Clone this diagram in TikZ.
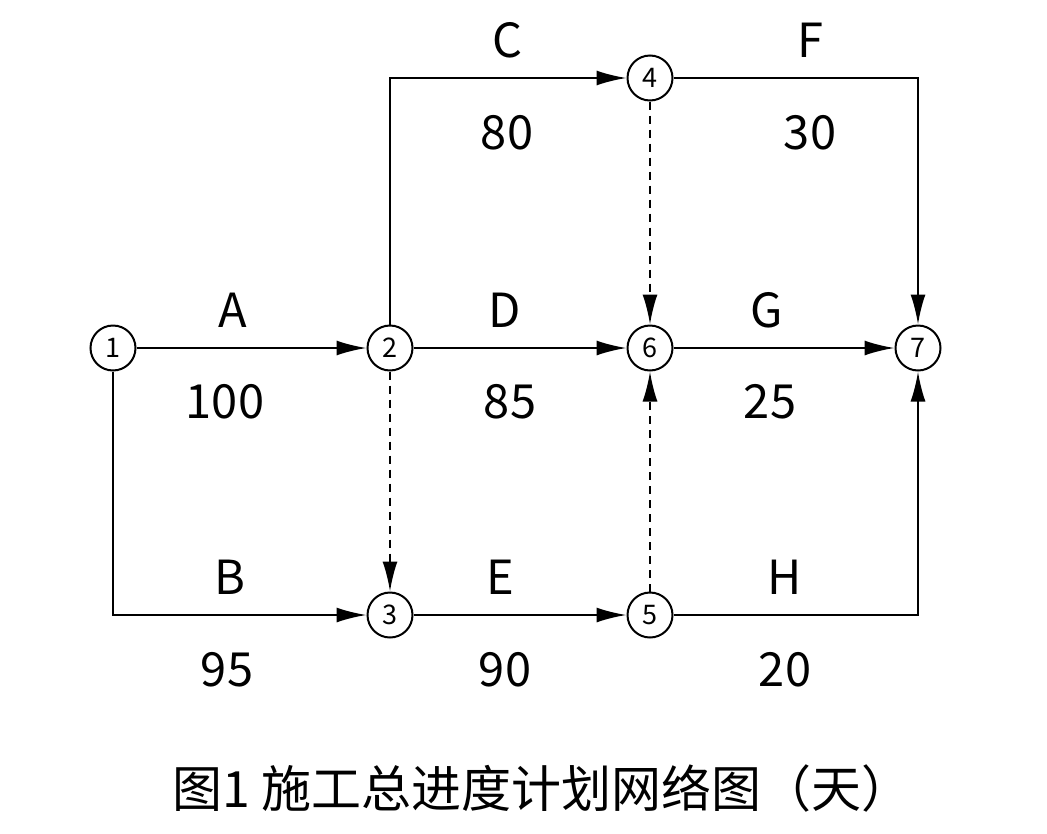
\documentclass[tikz,border=0pt]{standalone}
\usepackage{fontspec}
\setmainfont{Noto Sans CJK SC}
\usetikzlibrary{arrows.meta}
\begin{document}
\begin{tikzpicture}[x=1pt,y=-1pt,
  ev/.style={circle,draw,line width=2pt,minimum size=45pt,inner sep=0pt,fill=white,font=\fontsize{27}{27}\selectfont},
  lab/.style={font=\fontsize{47}{47}\selectfont},
  act/.style={line width=2.2pt,-{Latex[length=30pt,width=15pt]}},
  dum/.style={act,dashed,dash pattern=on 8pt off 6pt}]
\useasboundingbox (0,0) rectangle (1047,833);
\node[ev] (n1) at (113,348) {1};
\node[ev] (n2) at (390,348) {2};
\node[ev] (n3) at (390,615) {3};
\node[ev] (n4) at (650,78) {4};
\node[ev] (n5) at (650,615) {5};
\node[ev] (n6) at (650,348) {6};
\node[ev] (n7) at (918,348) {7};
\coordinate (c1) at (113,615);
\coordinate (c2) at (390,78);
\coordinate (c4) at (918,78);
\coordinate (c5) at (918,615);
\draw[act] (n1) -- (n2);
\draw[act] (n1) -- (c1) -- (n3);
\draw[act] (n2) -- (c2) -- (n4);
\draw[act] (n2) -- (n6);
\draw[act] (n3) -- (n5);
\draw[act] (n6) -- (n7);
\draw[act] (n4) -- (c4) -- (n7);
\draw[act] (n5) -- (c5) -- (n7);
\draw[dum] (n2) -- (n3);
\draw[dum] (n4) -- (n6);
\draw[dum] (n5) -- (n6);
\node[lab] (lA) at (233,310) {A}; \node[lab] (vA) at (225,402) {100};
\node[lab] (lB) at (230,577) {B}; \node[lab] (vB) at (227,670) {95};
\node[lab] (lC) at (507,40) {C}; \node[lab] (vC) at (507,133) {80};
\node[lab] (lD) at (505,310) {D}; \node[lab] (vD) at (510,402) {85};
\node[lab] (lE) at (500,577) {E}; \node[lab] (vE) at (505,670) {90};
\node[lab] (lF) at (810,40) {F}; \node[lab] (vF) at (810,133) {30};
\node[lab] (lG) at (767,310) {G}; \node[lab] (vG) at (770,402) {25};
\node[lab] (lH) at (785,577) {H}; \node[lab] (vH) at (785,670) {20};
\node[font=\fontsize{50}{50}\selectfont] (cap) at (542,788) {图1 施工总进度计划网络图（天）};
\end{tikzpicture}
\end{document}
